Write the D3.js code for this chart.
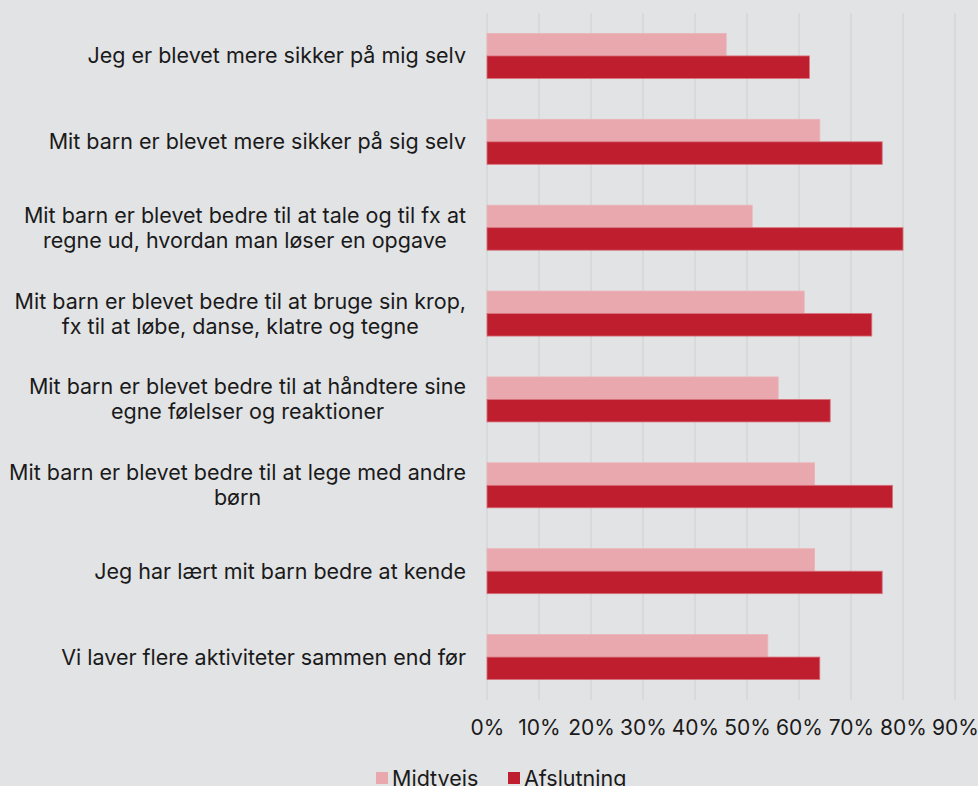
<!doctype html>
<meta charset="utf-8">
<title>Forældres vurdering</title>
<script src="https://cdn.jsdelivr.net/npm/d3@7/dist/d3.min.js"></script>
<style>
  html, body { margin: 0; padding: 0; background: #e2e3e5; }
  svg { display: block; font-family: Inter, "Noto Sans", sans-serif; }
</style>
<svg id="chart" width="978" height="786"></svg>
<script>
  // udsagn (hver linje er en linje i etiketten)
  const categories = [
    ['Jeg er blevet mere sikker på mig selv'],
    ['Mit barn er blevet mere sikker på sig selv'],
    ['Mit barn er blevet bedre til at tale og til fx at', 'regne ud, hvordan man løser en opgave'],
    ['Mit barn er blevet bedre til at bruge sin krop,', 'fx til at løbe, danse, klatre og tegne'],
    ['Mit barn er blevet bedre til at håndtere sine', 'egne følelser og reaktioner'],
    ['Mit barn er blevet bedre til at lege med andre', 'børn'],
    ['Jeg har lært mit barn bedre at kende'],
    ['Vi laver flere aktiviteter sammen end før']
  ]
  const seriesNames = ['Midtvejs', 'Afslutning']
  const midtvejs = [0.46, 0.64, 0.51, 0.61, 0.56, 0.63, 0.63, 0.54]
  const afslutning = [0.62, 0.76, 0.80, 0.74, 0.66, 0.78, 0.76, 0.64]
  const ticks = [0, 0.1, 0.2, 0.3, 0.4, 0.5, 0.6, 0.7, 0.8, 0.9]
  const colors = ['#e8a8ae', '#be1e2e']

  const svg = d3.select('#chart')
  const margin = { top: 13, left: 487, right: 23, bottom: 86 }
  const width = 978 - margin.left - margin.right
  const height = 786 - margin.top - margin.bottom

  const g = svg.append('g').attr('transform', `translate(${margin.left},${margin.top})`)

  const x = d3.scaleLinear().domain([0, 0.9]).range([0, width])
  const y = d3.scaleBand()
    .domain(d3.range(categories.length))
    .range([0, height])
    .paddingInner(0.476)
    .paddingOuter(0.238)
  const ySub = d3.scaleBand().domain(d3.range(2)).range([0, y.bandwidth()])

  // gitterlinjer
  g.append('g')
    .selectAll('line')
    .data(ticks)
    .join('line')
    .attr('x1', d => x(d)).attr('x2', d => x(d))
    .attr('y1', 0).attr('y2', height)
    .attr('stroke', '#d3d5d7')
    .attr('stroke-width', 1.4)

  const series = [midtvejs, afslutning]
  series.forEach((vals, s) => {
    g.append('g')
      .selectAll('rect')
      .data(vals)
      .join('rect')
      .attr('x', x(0))
      .attr('y', (d, i) => y(i) + ySub(s))
      .attr('width', d => x(d) - x(0))
      .attr('height', ySub.bandwidth())
      .attr('fill', colors[s])
      .attr('stroke', s === 0 ? '#ebb4b9' : '#d8737d')
      .attr('stroke-width', 0.8)
  })

  // x-akse
  const xAxis = g.append('g')
    .attr('transform', `translate(0,${height})`)
    .call(d3.axisBottom(x).tickValues(ticks).tickFormat(d3.format('.0%')).tickSize(0).tickPadding(20))
  xAxis.select('.domain').remove()
  xAxis.selectAll('text')
    .attr('font-size', 21)
    .attr('font-family', 'Inter, "Noto Sans", sans-serif')
    .attr('fill', '#1a1a1a')

  // kategorietiketter
  const labelRight = 466 - margin.left
  const lineH = 25
  const lab = g.append('g')
  categories.forEach((lines, i) => {
    const cy = y(i) + y.bandwidth() / 2
    const t = lab.append('text')
      .attr('font-size', 21.5)
      .attr('fill', '#1a1a1a')
      .attr('text-anchor', 'end')
    const y0 = cy - (lines.length - 1) * lineH / 2
    lines.forEach((ln, k) => {
      t.append('tspan')
        .attr('x', labelRight)
        .attr('y', y0 + k * lineH)
        .attr('dy', '0.35em')
        .text(ln)
    })
    // flere linjer centreres i forhold til den bredeste
    if (lines.length > 1) {
      const spans = t.selectAll('tspan').nodes()
      const w = d3.max(spans, n => n.getComputedTextLength())
      const mid = labelRight - w / 2
      t.attr('text-anchor', 'middle')
      t.selectAll('tspan').attr('x', mid)
    }
  })

  // forklaring
  const legend = svg.append('g').attr('transform', 'translate(0,778)')
  const legItems = [{ x: 376 }, { x: 508 }]
  seriesNames.forEach((name, s) => {
    legend.append('rect')
      .attr('x', legItems[s].x).attr('y', -6)
      .attr('width', 12).attr('height', 12)
      .attr('fill', colors[s])
    legend.append('text')
      .attr('x', legItems[s].x + 16)
      .attr('y', 0)
      .attr('dy', '0.35em')
      .attr('font-size', 21.5)
      .attr('fill', '#1a1a1a')
      .text(name)
  })
</script>
